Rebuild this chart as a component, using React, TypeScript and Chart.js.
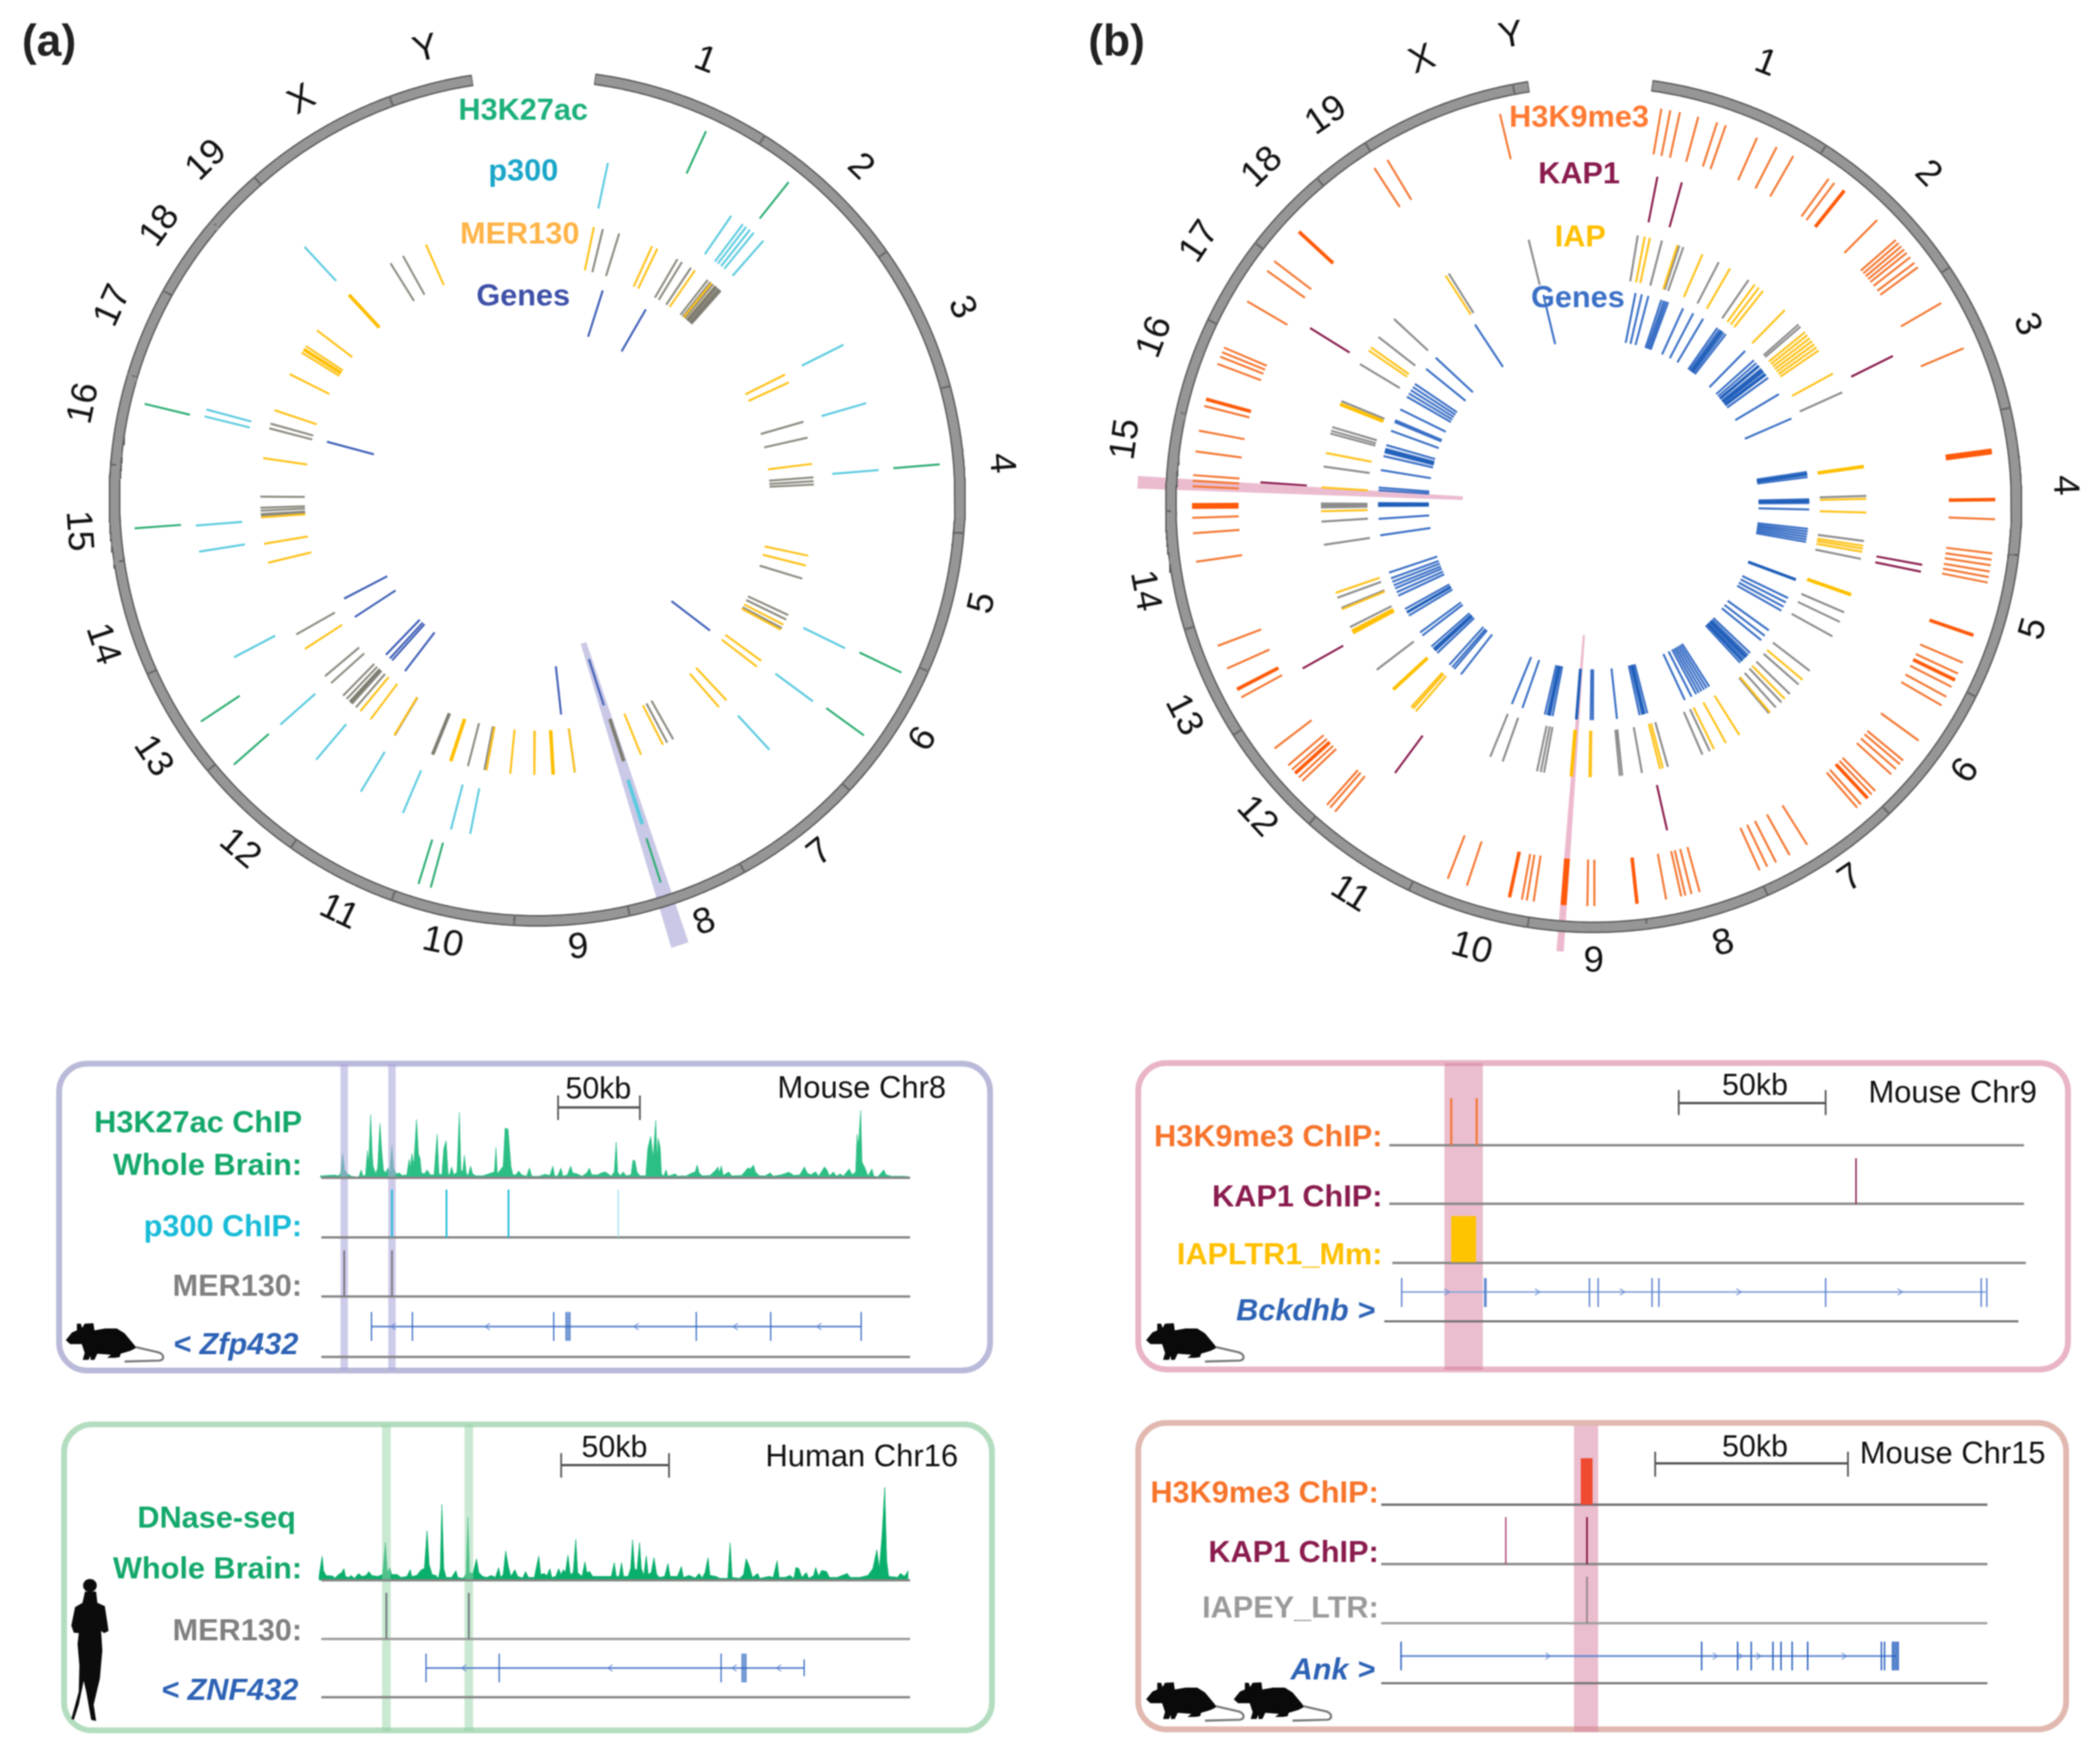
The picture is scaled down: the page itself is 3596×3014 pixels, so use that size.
import React, { useEffect, useRef } from "react";
import { Chart, registerables } from "chart.js";
Chart.register(...registerables);

const FONT = '"Liberation Sans", Arial, sans-serif';

// ---------- circular plots: positions are degrees clockwise from the top ----------
const chromosomes = ["1","2","3","4","5","6","7","8","9","10","11","12","13","14","15","16","17","18","19","X","Y"];

const chrBoundsA = [7.8,32.1,54.8,74.8,94.7,113.9,133.1,151,167.5,183.1,199.9,215.2,230.4,245.7,261.4,274.5,286.8,299,310.3,318.6,339.8,351.2];
const labelAnglesA = [21,44.3,65.8,85.7,103.3,122,141.4,158.5,174.8,192,205.6,220.3,236.1,251.4,265.9,281.8,294.4,305.8,315.6,329.4,346];
const labelRadiiA = [1.114,1.1,1.105,1.106,1.077,1.072,1.067,1.073,1.063,1.07,1.082,1.083,1.09,1.08,1.083,1.1,1.107,1.105,1.123,1.1,1.099];

const h3k27acAngles = [24.7,38.5,85.2,115.6,126,162.2,195.3,197.1,228.7,236.4,265.7,283.5];
const p300Angles = [11.9,34.5,36.9,37.6,38.4,39.2,41.3,63.4,73.9,85.3,116,126.4,137.3,162,162.3,191.3,194.6,203.1,211,220.2,228.6,242.3,261,265.4,283.8,285,317.2];
const mer130YellowAngles = [11.8,24.5,25.7,34.7,39,40,63.5,65.3,82.9,102,104.1,117.2,118.4,126,127.5,136.9,139,153,158,172.2,176.7,180.6,185.6,190.6,198.2,211.1,217,219.7,237,256.5,260.5,266,278.3,288.5,296.6,301.7,302.5,303.3,307.3,317.2,336.3];
const mer130YellowDense = [176.7,198.2,302.5,317.2];
const mer130GrayAngles = [13.7,17.2,30.4,31.5,33.7,38,38.7,39.4,40.8,41.5,74,77.4,85.7,86.5,87.2,106.9,115,116,118,150.6,152,161.8,172.2,190.6,191,194.5,202.2,211,220.9,222,223.5,224.5,228.1,230,240.5,266.4,266.7,267.4,268,270.3,284.6,285.6,328,331];
const mer130DenseAngles = [40.2,41.2,161.8,202.2,222.5];
const genesAnglesA = [17.5,29.9,285,242.5,236.9,221.8,222.6,224,217.4,173.7,162.2,127.5];

const chrBoundsB = [7.9,32.9,56.3,76.9,96.8,116.7,136.3,156,172.8,188.9,205.6,221.7,237.4,253,269.1,282.5,295.6,307.7,319.7,327.7,349.1,351.2];
const labelAnglesB = [21.3,45.3,67.4,87.7,105.8,125.6,145.5,163.5,180,195.4,212,227.2,242.8,259.1,277.9,290.9,303.7,315.5,325.5,338.9,350];
const labelRadiiB = [1.125,1.117,1.115,1.12,1.076,1.077,1.067,1.077,1.075,1.084,1.082,1.081,1.085,1.076,1.122,1.117,1.126,1.124,1.122,1.133,1.13];

const h3k9me3Angles = [346.5,9.7,11,12.4,15.1,17.9,19.2,24,27.1,29.8,35.8,36.8,44.9,48.8,49.4,50,50.6,51.2,52,53,53.8,59.9,67.1,92.1,97,97.9,98.7,99.6,100.4,101.2,113.2,114.9,117,118.6,120,126,129.6,130.3,131.2,132.2,135.5,136.2,138.3,139,147.9,150.8,153,154.4,155.6,164.7,165.9,166.8,167.4,169.6,179.9,180.9,188.6,189.6,190.3,198.4,201.3,220.1,221,221.6,226.5,227.2,228.7,229.5,232.6,241.3,245.9,249.4,261.8,265.9,268.1,272.6,273.4,274.2,277.6,280.6,284.2,290.5,291.6,292.3,293,300.4,305.6,307.3,326.9,329.1];
const h3k9me3DenseAngles = [38.6,89.3,109,115.9,137,173.8,192.1,228,242.6,285.2,312.8];
const h3k9me3BlockAngles = [82.4,184.3,269.8];
const kap1Angles = [11,15.3,63.6,100.4,101.6,167.3,216.5,240.6,273.8,301.9];
const iapYellowAngles = [10.8,11.9,17.9,23.5,30,36.2,37.3,38.4,44.5,50.8,51.6,52.4,53.2,54,54.8,55.6,61.3,82,88.8,91.7,98.7,99.3,100,109.3,130,135.5,139.7,147.7,151,153.8,165.3,165.9,180.6,180.9,184.7,220.7,221.5,222,227.3,241.8,242.5,247.4,251.1,268.6,273.6,280.9,291.6,304.4,305.2,327.1];
const iapDenseAngles = [82,109.3,184.7,227.3,242.2,291.6];
const iapGrayAngles = [9.3,14.5,18.3,19.2,27.3,34.6,48.7,49.3,65.7,88.2,97.7,101.5,113.3,115.5,118.9,127.6,131.3,134,136.5,138.1,140,154.8,156.5,164.2,169.8,174,174.5,190.5,191.2,192,199.5,202.3,232.7,243.3,247.7,250,261.5,266.4,269.4,269.8,270.2,278,285.1,285.7,286.5,292.3,301,307.9,312.9,327.9,346.2];
const genesAnglesB = [11.2,12.9,14.7,18.3,19,19.6,20.2,24.5,27.5,30.5,35,35.7,36.4,37.1,37.8,44.6,48,49,50,51,52,53,54,59.2,66.5,81.3,82,82.7,88.6,89.1,89.6,91.3,96.5,97.2,97.9,98.6,99.3,100,110.4,115.7,117,118.3,119.5,125.7,127.5,129,133.5,134.3,135,135.7,136.4,137.2,147.6,148.4,149.2,150,150.8,151.6,153,155,165.6,166.3,167,167.7,173.8,180.2,180.8,184.6,191,191.7,192.4,193.1,199.3,202.3,218,220.3,221,222,226.5,227.3,228,228.8,232.6,233.6,239,240,241,245,246,247.1,248,249,250,251.6,261.8,266.2,269.6,270,270.4,273.8,274.5,279.2,283,284,285,286,290,292.5,293,296.2,300,301,302,303,304,309,312.9,326.6,346.5];
const genesDenseB = [36.4,50,51.5,52.8,81.9,89.1,110.4,135,136.4,166.6,184.6,192,227.7,240,270,284.5];

// ---------- browser tracks: signal positions along two stretches of each window ----------
const h3k27acPosL = [25,60,100,120,130,140,150,165,185,215,225,235,245,258,268,274,284,292,297,310,320,332,340,350,362,372,382,393,402,415,432,445,470,482,488,496,505,520,530,538,545,560,575,590,610,626,635,650,660,672,682,690,700,712,728,740,748,757,766,775,785,798,808,825,860,890,905,920,928,935,950,965,975,990,998,1005,1015,1030,1045,1060,1085,1100,1112,1150,1180,1205,1220,1230,1245,1262,1272,1295,1312,1322,1345,1370,1395,1408,1420,1450,1470,1490];
const h3k27acValL = [10,12,14,10,25,125,40,20,8,4,8,40,8,15,140,60,325,120,60,20,50,280,150,40,25,50,30,165,50,20,25,12,15,95,50,125,60,300,120,100,25,20,40,15,15,225,20,15,150,190,20,15,55,15,30,335,40,30,115,25,10,60,20,10,10,20,25,30,155,20,40,60,255,250,150,60,15,15,35,15,8,50,8,8,18,12,60,8,10,50,8,15,60,25,20,8,25,50,15,15,25,30];
const h3k27acPosR = [20,35,45,52,65,80,95,120,130,140,150,165,195,205,220,232,245,252,258,268,274,285,297,307,345,355,385,395,430,445,455,465,480,520,550,560,567,577,587,615,630,680,712,725,740,750,770,800,825,840,880,920,945,975,998,1012,1030,1055,1070,1100,1112,1125,1145,1160,1180,1195,1225,1240,1258,1265,1272,1283,1290,1305,1320,1340,1350,1370,1400,1412,1440,1500,1525];
const h3k27acValR = [8,30,180,30,10,30,10,15,90,85,30,10,10,150,210,100,290,100,200,150,20,8,40,8,20,8,10,8,25,30,65,25,10,12,40,55,25,60,12,30,10,12,50,45,65,30,10,10,25,8,15,28,12,15,55,25,15,30,8,55,40,10,30,8,20,8,45,15,30,220,160,340,80,50,8,45,8,5,40,15,8,8,6];

const dnasePosL = [18,25,35,42,55,90,100,120,135,147,155,170,185,200,222,240,260,275,290,320,345,360,370,383,392,420,440,470,488,495,520,545,560,574,585,600,620,632,642,650,660,672,700,722,732,760,775,784,792,810,828,840,860,880,905,925,942,952,965,978,992,1005,1025,1040,1065,1080,1095,1125,1148,1158,1175,1190,1205,1215,1235,1250,1262,1275,1285,1298,1310,1325,1338,1348,1370,1385,1395,1410,1425,1460,1500];
const dnaseValL = [15,60,125,50,25,22,12,30,40,60,20,15,25,10,35,20,25,45,25,20,30,195,40,65,30,30,15,20,55,20,25,55,60,255,80,30,25,10,60,390,60,15,15,50,15,10,35,325,40,35,110,40,20,15,25,15,65,15,30,150,70,20,55,20,12,45,15,15,125,30,35,25,60,15,20,60,30,55,40,130,30,40,210,40,20,95,40,45,20,20,20];
const dnasePosR = [20,35,45,60,72,82,105,118,128,138,150,163,172,185,197,207,222,236,250,265,290,307,318,355,375,385,415,445,465,480,495,510,520,550,570,610,622,632,670,690,703,720,735,762,772,820,840,860,870,900,925,945,955,970,985,1008,1020,1045,1055,1070,1085,1110,1125,1165,1215,1230,1280,1300,1320,1345,1365,1378,1392,1405,1415,1425,1470,1485,1505,1525];
const dnaseValR = [20,90,20,20,90,20,20,60,205,60,50,190,60,25,125,30,40,115,30,15,20,85,20,20,70,15,25,12,35,12,40,115,25,20,10,10,190,15,10,30,110,70,15,35,10,20,15,100,15,15,25,10,65,60,15,40,10,25,65,20,50,45,15,15,35,15,15,20,25,60,155,60,235,470,100,20,15,35,20,50];

const p300Ticks = [557,645,745];
const p300WeakTicks = [922];
const mer130TicksMouse = [480,557];
const zfp432Span = [524,1314];
const zfp432Exons = [524,590,818,838,841,844,1048,1168,1314];
const zfp432Arrows = [558,710,950,1110,1245];

const mer130TicksHuman = [548,681];
const znf432Span = [612,1222];
const znf432Exons = [612,730,1088,1122,1125,1128];
const znf432ShortExons = [1222];
const znf432Arrows = [672,908,1108,1180];

const h3k9Chr9Ticks = [523,564];
const kap1Chr9Ticks = [1176];
const iapChr9Block = [523,563];
const bckdhbSpan = [443,1385];
const bckdhbExons = [443,577,579,746,760,847,858,1127,1378,1387];
const bckdhbArrows = [517,663,800,988,1248];

const h3k9Chr15Block = [732,751];
const kap1Chr15Ticks = [742];
const kap1Chr15WeakTicks = [611];
const iapeyTicks = [742];
const ankSpan = [442,1240];
const ankExons = [442,927,985,1007,1042,1055,1073,1098,1217,1222,1235,1238,1241,1244];
const ankArrows = [680,950,990,1020,1158];

// ---------- colours ----------
const C = { green:"#2EAE73", cyan:"#5CCBE0", yellow:"#FFC21A", gray:"#8D8B80", indigo:"#4060B8", orange:"#F57732", wine:"#8A1C4E", blue:"#3B70C6", track:"#858585" };

type DS = any;
const polar = (deg:number, r:number) => ({ x:r*Math.sin(deg*Math.PI/180), y:r*Math.cos(deg*Math.PI/180) });
const ln = (data:any[], color:string, width:number):DS => ({ data, borderColor:color, borderWidth:width, showLine:true, pointRadius:0, fill:false, spanGaps:false, tension:0 });
const shape = (pts:any[], color:string):DS => ({ ...ln(pts,"transparent",0), fill:"shape", backgroundColor:color });
const radial = (angles:number[], r0:number, r1:number) => angles.flatMap(a => [polar(a,r0), polar(a,r1), {x:NaN,y:NaN}]);
const arc = (a:number, b:number, r=1) => { const p:any[]=[]; for(let d=a;d<b;d+=0.5)p.push(polar(d,r)); p.push(polar(b,r)); return p; };
const wedge = (a:number, half:number, r0:number, r1:number) => [polar(a-half,r0),polar(a+half,r0),polar(a+half,r1),polar(a-half,r1)];
const layered = (list:DS[]) => list.map((d,i)=>({...d, order:list.length-i}));

function ringSets(bounds:number[]) {
  const out:DS[]=[];
  for(let i=0;i<bounds.length-1;i++) out.push(ln(arc(bounds[i],bounds[i+1]),"#5C5C5C",20));
  for(let i=0;i<bounds.length-1;i++) out.push(ln(arc(bounds[i]+0.12,bounds[i+1]-0.12),"#969696",15));
  return out;
}

const circleA:DS[] = layered([
  shape(wedge(162.3,1.1,0.36,1.11),"#C9C8E6"),
  ...ringSets(chrBoundsA),
  ln(radial(h3k27acAngles,0.845,0.955),C.green,3.5),
  ln(radial(p300Angles,0.70,0.81),C.cyan,3.5),
  ln(radial(mer130GrayAngles,0.55,0.655),C.gray,3.5),
  ln(radial(mer130YellowAngles,0.55,0.655),C.yellow,3.5),
  ln(radial(mer130DenseAngles,0.55,0.655),"#7F7D72",6),
  ln(radial(mer130YellowDense,0.55,0.655),"#FFBE00",6),
  ln(radial(genesAnglesA,0.40,0.515),C.indigo,3.5),
]);
const circleB:DS[] = layered([
  shape(wedge(272.8,0.8,0.31,1.08),"#EBBCD0"),
  shape(wedge(184.3,0.47,0.31,1.06),"#EDB9CE"),
  ...ringSets(chrBoundsB),
  ln(radial(h3k9me3Angles,0.84,0.95),C.orange,3.5),
  ln(radial(h3k9me3DenseAngles,0.84,0.95),"#FF5A0A",6),
  ln(radial(h3k9me3BlockAngles,0.84,0.95),"#FF5A0A",10),
  ln(radial(kap1Angles,0.68,0.79),C.wine,3.5),
  ln(radial(iapGrayAngles,0.535,0.645),"#8C8C8C",3.5),
  ln(radial(iapYellowAngles,0.535,0.645),C.yellow,3.5),
  ln(radial(iapDenseAngles,0.535,0.645),"#FFC000",6),
  ln(radial(genesAnglesB,0.39,0.51),C.blue,3.5),
  ln(radial(genesDenseB,0.39,0.51),"#1F5FBA",5),
]);

const vticks = (xs:number[], y0:number, y1:number) => xs.flatMap(x => [{x,y:y0},{x,y:y1},{x:NaN,y:NaN}]);
const hline = (a:number,b:number,y:number) => [{x:a,y},{x:b,y}];
const rect = (a:number,b:number,y0:number,y1:number) => [{x:a,y:y0},{x:b,y:y0},{x:b,y:y1},{x:a,y:y1}];
const chevrons = (xs:number[], y:number, dir:number) => xs.flatMap(x => [{x:x-5*dir,y:y-15},{x:x+3*dir,y},{x:x-5*dir,y:y+15},{x:NaN,y:NaN}]);
const signal = (xs:number[], hs:number[], base:number, color:string):DS => ({ ...ln(xs.map((x,i)=>({x,y:base-hs[i]})),color,1), fill:{value:base}, backgroundColor:color });
const scalebar = (a:number,b:number,y:number,y0:number,y1:number) => [ln(hline(a,b,y),"#555555",4), ln(vticks([a,b],y0,y1),"#555555",3)];
// the two read-off stretches of each signal, placed along the window and put on the track's height scale
const stitch = (pL:number[],vL:number[],pR:number[],vR:number[]) => ({
  xs:[...pL.map(z=>433.4+z*0.314),...pR.map(z=>904.5+z*0.3185)],
  hs:[...vL.map(h=>h*0.899),...vR.map(h=>h*0.912)],
});
const h3k27ac = stitch(h3k27acPosL,h3k27acValL,h3k27acPosR,h3k27acValR);
const dnase = stitch(dnasePosL,dnaseValL,dnasePosR,dnaseValR);

const GENE = "#5F86CF", GENE_D = "#2A62BE";
const bandA="rgba(172,168,220,0.6)", bandG="rgba(150,212,168,0.5)", bandP="rgba(214,125,160,0.5)";

const panelA1:DS[] = layered([
  signal(h3k27ac.xs,h3k27ac.hs,585,"#2CBF85"),
  shape(rect(474,486,58,1475),bandA), shape(rect(551,563,58,1475),bandA),
  ln(hline(443,1393,585),C.track,4), ln(hline(443,1393,860),C.track,4), ln(hline(443,1393,1133),C.track,4), ln(hline(443,1393,1412),C.track,4),
  ln(vticks(p300Ticks,640,860),"#1EBBDB",3), ln(vticks(p300WeakTicks,640,860),"#9ADFEC",2),
  ln(vticks(mer130TicksMouse,920,1133),"#777780",3),
  ln(hline(zfp432Span[0],zfp432Span[1],1272),GENE,3), ln(vticks(zfp432Exons,1205,1338),GENE_D,2), ln(chevrons(zfp432Arrows,1272,-1),GENE,1.5),
  ...scalebar(825,957,260,205,318),
]);
const panelA2:DS[] = layered([
  signal(dnase.xs,dnase.hs,772,"#0BAF6C"),
  shape(rect(541,555,52,1468),bandG), shape(rect(674,688,52,1468),bandG),
  ln(hline(443,1393,772),C.track,4), ln(hline(443,1393,1043),"#9A9A9A",4), ln(hline(443,1393,1312),C.track,4),
  ln(vticks(mer130TicksHuman,830,1043),"#70757A",3),
  ln(hline(znf432Span[0],znf432Span[1],1177),GENE,3), ln(vticks(znf432Exons,1110,1243),GENE_D,2), ln(vticks(znf432ShortExons,1137,1215),GENE_D,2), ln(chevrons(znf432Arrows,1177,-1),GENE,1.5),
  ...scalebar(830,1004,240,185,298),
]);
const panelB1:DS[] = layered([
  shape(rect(512,574,55,1472),bandP),
  ln(hline(423,1447,435),C.track,4), ln(hline(423,1447,705),C.track,4), ln(hline(428,1450,978),C.track,4), ln(hline(415,1438,1248),"#6F6F6F",3.5),
  ln(vticks(h3k9Chr9Ticks,218,435),"#F7742B",3.5), ln(vticks(kap1Chr9Ticks,495,705),C.wine,2.5),
  shape(rect(iapChr9Block[0],iapChr9Block[1],762,975),"#FFC400"),
  ln(hline(bckdhbSpan[0],bckdhbSpan[1],1112),"#8FA9DC",3), ln(vticks(bckdhbExons,1048,1182),GENE,2.5), ln(chevrons(bckdhbArrows,1112,1),GENE,1.5),
  ...scalebar(890,1127,240,180,295),
]);
const panelB2:DS[] = layered([
  shape(rect(721,760,58,1472),bandP),
  ln(hline(410,1388,423),"#6F6F6F",4), ln(hline(410,1388,697),C.track,4), ln(hline(410,1388,970),"#A0A0A0",4), ln(hline(410,1388,1247),"#6F6F6F",3.5),
  shape(rect(h3k9Chr15Block[0],h3k9Chr15Block[1],208,423),"#F04A30"),
  ln(vticks(kap1Chr15Ticks,480,697),C.wine,3), ln(vticks(kap1Chr15WeakTicks,480,697),"#B0507A",2.5),
  ln(vticks(iapeyTicks,755,970),"#8A7A80",2.5),
  ln(hline(ankSpan[0],ankSpan[1],1122),GENE,3), ln(vticks(ankExons,1055,1188),GENE_D,2.5), ln(chevrons(ankArrows,1122,1),GENE,1.5),
  ...scalebar(852,1163,232,178,293),
]);

// ---------- chart hosts ----------
function ChartCanvas({left,top,width,height,datasets,scales,box}:any){
  const ref=useRef<HTMLCanvasElement>(null);
  useEffect(()=>{
    const frame={id:"frame",beforeDatasetsDraw(chart:any){
      if(!box)return;
      const {x,y}=chart.scales; const c=chart.ctx;
      c.save(); c.strokeStyle=box.color; c.lineWidth=10;
      c.beginPath();
      c.roundRect(x.getPixelForValue(box.x0),y.getPixelForValue(box.y0),x.getPixelForValue(box.x1)-x.getPixelForValue(box.x0),y.getPixelForValue(box.y1)-y.getPixelForValue(box.y0),48);
      c.stroke(); c.restore();
    }};
    const chart=new Chart(ref.current as any,{type:"scatter",data:{datasets},plugins:[frame],options:{
      animation:false,responsive:false,devicePixelRatio:1,layout:{padding:0},
      plugins:{legend:{display:false},tooltip:{enabled:false},title:{display:false}},
      scales:{x:{type:"linear",display:false,min:scales.x0,max:scales.x1},y:{type:"linear",display:false,min:scales.y0,max:scales.y1,reverse:!!scales.reverse}},
    }} as any);
    return ()=>chart.destroy();
  },[]);
  return <canvas ref={ref} width={width} height={height} style={{position:"absolute",left,top,width,height}}/>;
}

function Txt({x,y,children,size=50,color="#111",bold=false,italic=false,align="center",rot=0}:any){
  const tx=align==="right"?"-100%":"-50%";
  return <span style={{position:"absolute",left:x,top:y,transform:`translate(${tx},-50%) rotate(${rot}deg)`,whiteSpace:"pre",fontFamily:FONT,fontSize:size,color,fontWeight:bold?700:400,fontStyle:italic?"italic":"normal",lineHeight:1}}>{children}</span>;
}

const MOUSE="M38 135 L70 95 L95 85 L95 50 L115 50 L122 72 L135 50 L180 48 L185 85 L240 75 L300 75 L340 100 L390 160 L400 175 L370 190 L320 205 L315 222 L290 226 L250 226 L270 210 L200 205 L185 236 L165 236 L165 215 L155 236 L125 236 L135 200 L120 155 L60 155 Z";
const TAIL="M395 170 L515 198 C545 210 545 235 520 240 L340 245";
const Mouse=({x,y}:any)=>(
  <svg viewBox="0 0 600 300" style={{position:"absolute",left:x,top:y,width:200,height:100}}>
    <path d={MOUSE} fill="#0a0a0a"/><path d={TAIL} fill="none" stroke="#777" strokeWidth="11"/>
  </svg>
);
const Human=({x,y}:any)=>(
  <svg viewBox="0 0 64 660" preserveAspectRatio="none" style={{position:"absolute",left:x,top:y,width:68,height:245}}>
    <ellipse cx="32" cy="30" rx="11" ry="30" fill="#0c0c0c"/>
    <path d="M24 58 L42 58 L44 110 L56 125 L60 200 L62 240 L55 250 L50 240 L52 330 L48 460 L38 580 L42 655 L34 650 L26 520 L22 470 L14 580 L6 650 L2 645 L14 520 L15 400 L12 300 L14 250 L6 248 L2 215 L8 130 L20 110 Z" fill="#0c0c0c"/>
  </svg>
);

const Z=1564;
const px=(left:number,z:number)=>left+z*1660/Z;
const py=(top:number,z:number)=>top+z*580/Z;

function Panel({left,top,datasets,box,labels,bar,title}:any){
  return <>
    <ChartCanvas left={left} top={top} width={1660} height={580} datasets={datasets} box={box} scales={{x0:0,x1:Z,y0:0,y1:Z,reverse:true}}/>
    {labels.map((l:any,i:number)=><Txt key={i} x={px(left,l.x)} y={py(top,l.y)} align="right" bold color={l.c} italic={l.i} size={52.5}>{l.t}</Txt>)}
    <Txt x={px(left,bar.x)} y={py(top,bar.y)} size={52}>50kb</Txt>
    <Txt x={px(left,title.x)} y={py(top,title.y)} size={53}>{title.t}</Txt>
  </>;
}

function Circle({cx,cy,left,width,datasets,angles,radii,legend}:any){
  const R=724, h=1700;
  return <>
    <ChartCanvas left={left} top={0} width={width} height={h} datasets={datasets} scales={{x0:(left-cx)/R,x1:(left+width-cx)/R,y0:(cy-h)/R,y1:cy/R}}/>
    {chromosomes.map((c,i)=>{
      const a=angles[i], r=radii[i]*R;
      const rot=a>90&&a<270?a-180:a;
      return <Txt key={c} x={cx+r*Math.sin(a*Math.PI/180)} y={cy-r*Math.cos(a*Math.PI/180)} size={63} rot={rot}>{c}</Txt>;
    })}
    {legend.map((l:any)=><Txt key={l.t} x={l.x} y={l.y} size={52.5} bold color={l.c}>{l.t}</Txt>)}
  </>;
}

const legendA=[{t:"H3K27ac",x:896,y:187,c:"#1DB07A"},{t:"p300",x:896,y:291,c:"#1BA6C9"},{t:"MER130",x:890,y:399,c:"#FFB347"},{t:"Genes",x:896,y:505,c:"#3F51A8"}];
const legendB=[{t:"H3K9me3",x:2704,y:199,c:"#FF7A33"},{t:"KAP1",x:2704,y:296,c:C.wine},{t:"IAP",x:2706,y:404,c:"#FFC000"},{t:"Genes",x:2702,y:508,c:C.blue}];

const BLUE="#2D62B5", ORANGE="#F7742B";
export default function App(){
  return <div style={{position:"absolute",left:0,top:0,width:3596,height:3014,background:"#fff",overflow:"hidden",filter:"blur(1.2px)"}}>
    <Txt x={84} y={69} size={76} bold color="#222">(a)</Txt>
    <Txt x={1912} y={69} size={76} bold color="#222">(b)</Txt>
    <Circle cx={920} cy={853} left={0} width={1800} datasets={circleA} angles={labelAnglesA} radii={labelRadiiA} legend={legendA}/>
    <Circle cx={2729} cy={864} left={1800} width={1796} datasets={circleB} angles={labelAnglesB} radii={labelRadiiB} legend={legendB}/>

    <Panel left={80} top={1800} datasets={panelA1} box={{x0:20,x1:1522,y0:58,y1:1475,color:"#B9B9D9"}}
      bar={{x:890,y:170}} title={{t:"Mouse Chr8",x:1315,y:165}}
      labels={[{t:"H3K27ac ChIP",x:412,y:325,c:"#14A86B"},{t:"Whole Brain:",x:412,y:522,c:"#14A86B"},{t:"p300 ChIP:",x:412,y:805,c:"#19BCD8"},{t:"MER130:",x:412,y:1080,c:"#808080"},{t:"< Zfp432",x:406,y:1352,c:BLUE,i:true}]}/>
    <Mouse x={100} y={2250}/>

    <Panel left={80} top={2420} datasets={panelA2} box={{x0:28,x1:1525,y0:52,y1:1465,color:"#B4DDBF"}}
      bar={{x:916,y:155}} title={{t:"Human Chr16",x:1315,y:195}}
      labels={[{t:"DNase-seq",x:402,y:480,c:"#14A86B"},{t:"Whole Brain:",x:412,y:715,c:"#14A86B"},{t:"MER130:",x:412,y:1000,c:"#808080"},{t:"< ZNF432",x:406,y:1275,c:BLUE,i:true}]}/>
    <Human x={120} y={2704}/>

    <Panel left={1930} top={1800} datasets={panelB1} box={{x0:18,x1:1518,y0:55,y1:1470,color:"#E8B4C6"}}
      bar={{x:1013,y:155}} title={{t:"Mouse Chr9",x:1332,y:185}}
      labels={[{t:"H3K9me3 ChIP:",x:412,y:390,c:ORANGE},{t:"KAP1 ChIP:",x:412,y:668,c:C.wine},{t:"IAPLTR1_Mm:",x:412,y:935,c:"#FFC000"},{t:"Bckdhb >",x:400,y:1195,c:BLUE,i:true}]}/>
    <Mouse x={1950} y={2250}/>

    <Panel left={1930} top={2420} datasets={panelB2} box={{x0:18,x1:1515,y0:45,y1:1460,color:"#E1B8B0"}}
      bar={{x:1013,y:150}} title={{t:"Mouse Chr15",x:1332,y:180}}
      labels={[{t:"H3K9me3 ChIP:",x:406,y:365,c:ORANGE},{t:"KAP1 ChIP:",x:406,y:638,c:C.wine},{t:"IAPEY_LTR:",x:406,y:895,c:"#9A9A9A"},{t:"Ank >",x:400,y:1180,c:BLUE,i:true}]}/>
    <Mouse x={1950} y={2865}/>
    <Mouse x={2100} y={2865}/>
  </div>;
}
